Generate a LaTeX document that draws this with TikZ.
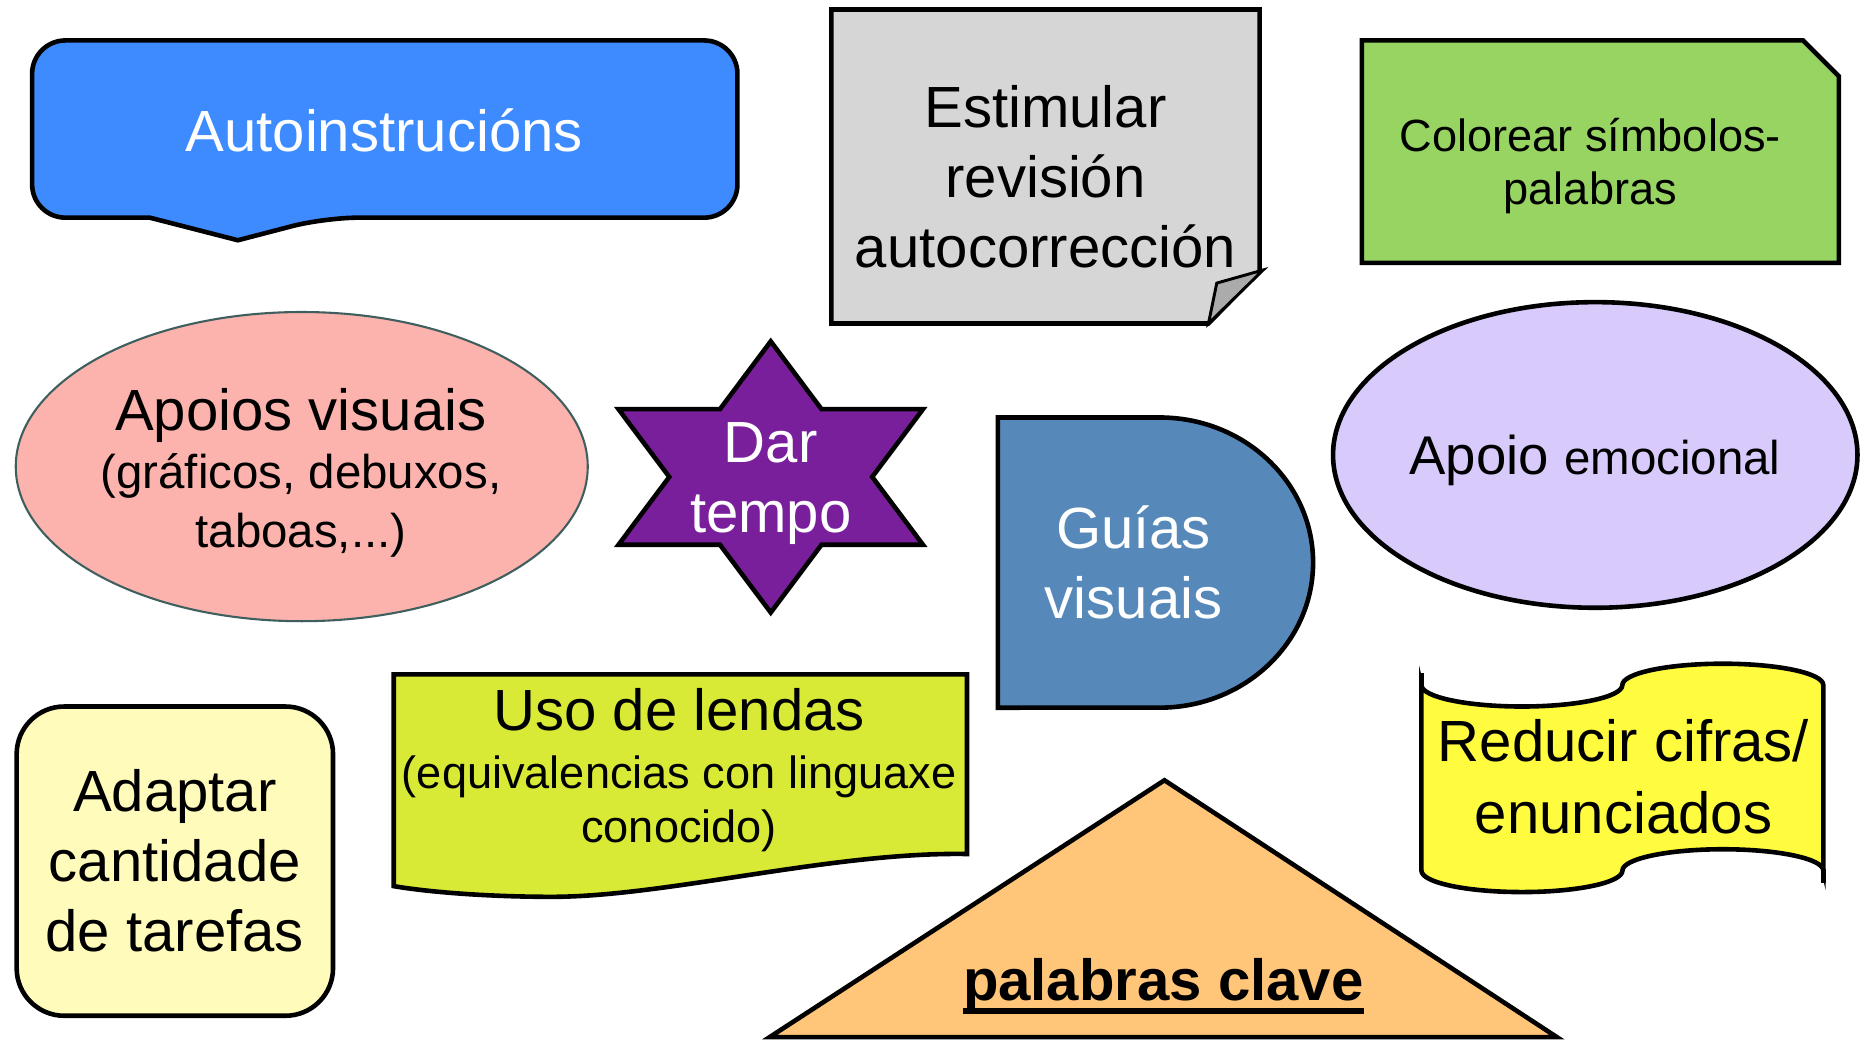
\documentclass[tikz,border=0pt]{standalone}
\usepackage{fontspec}
\setmainfont{Liberation Sans}
\usepackage{tikz}
\definecolor{autoblue}{HTML}{3D8BFF}
\definecolor{paper}{HTML}{D6D6D6}
\definecolor{paperfold}{HTML}{ABABAB}
\definecolor{leafgreen}{HTML}{97D462}
\definecolor{salmon}{HTML}{FCB3AD}
\definecolor{salmonedge}{HTML}{3F5F5F}
\definecolor{starviolet}{HTML}{7A1F9C}
\definecolor{steelblue}{HTML}{5689B9}
\definecolor{lavender}{HTML}{D8CAFA}
\definecolor{cream}{HTML}{FFFBBA}
\definecolor{lime}{HTML}{D8EA35}
\definecolor{apricot}{HTML}{FFC578}
\definecolor{lemon}{HTML}{FFFC40}
\tikzstyle{blob} =
[draw=black, line width=2.2pt, line join=miter]
\tikzstyle{bigtext} =
[inner sep=0pt, anchor=base, font=\fontsize{27.8}{33}\selectfont]
\tikzstyle{smalltext} =
[inner sep=0pt, anchor=base, font=\fontsize{22.7}{27}\selectfont]
\tikzstyle{tinytext} =
[inner sep=0pt, anchor=base, font=\fontsize{21.6}{26}\selectfont]
\begin{document}
\begin{tikzpicture}[x=0.02cm, y=-0.02cm]
  \path[use as bounding box, fill=white] (0,0) rectangle (1568,874.4);
  % top row shapes
  \draw[blob, fill=autoblue] (27,108) [rounded corners=0.56cm] -- (27,34)
   -- (620,34) -- (620,183) -- (273,183) [sharp corners] -- (200,202)
   -- (126,183) [rounded corners=0.56cm] -- (27,183) -- cycle;
  \draw[blob, fill=paper] (699,8) -- (1059,8) -- (1059,228) -- (1016,272)
   -- (699,272) -- cycle;
  \draw[blob, line width=1.4pt, fill=paperfold] (1062,227) -- (1023,238)
   -- (1016,272) -- cycle;
  \draw[blob, fill=leafgreen] (1145,34) -- (1516,34) -- (1546,64)
   -- (1546,221) -- (1145,221) -- cycle;
  \node [bigtext, white] (auto) at (323,127) {Autoinstrucións};
  \node [bigtext] (estim1) at (879,107) {Estimular};
  \node [bigtext] (estim2) at (879,166) {revisión};
  \node [bigtext] (estim3) at (879,225) {autocorrección};
  \node [tinytext] (color1) at (1337,127) {Colorear símbolos-};
  \node [tinytext] (color2) at (1337,172) {palabras};
  %
  % middle row shapes
  \draw[draw=salmonedge, line width=1pt, fill=salmon] (253.7,392.3)
   ellipse [x radius=4.81cm, y radius=2.6cm];
  \draw[blob, fill=starviolet] (648,287) -- (690.7,344) -- (776,344)
   -- (733.3,401) -- (776,458) -- (690.7,458) -- (648,515) -- (605.3,458)
   -- (520,458) -- (562.7,401) -- (520,344) -- (605.3,344) -- cycle;
  \draw[blob, fill=steelblue] (839,351) -- (975,351)
   arc [start angle=90, end angle=-90, x radius=2.58cm, y radius=2.44cm]
   -- (839,595) -- cycle;
  \draw[blob, fill=lavender] (1341.2,382.5)
   ellipse [x radius=4.41cm, y radius=2.57cm];
  \node [bigtext] (apoios1) at (253,362) {Apoios visuais};
  \node [smalltext] (apoios2) at (253,411) {(gráficos, debuxos,};
  \node [smalltext] (apoios3) at (253,460) {taboas,...)};
  \node [bigtext, white] (dar) at (648,389) {Dar};
  \node [bigtext, white] (tempo) at (648,448) {tempo};
  \node [bigtext, white] (guias1) at (953,461) {Guías};
  \node [bigtext, white] (guias2) at (953,520) {visuais};
  \node [bigtext, font=\fontsize{26.1}{31}\selectfont] (emoc) at (1341,399)
   {Apoio {\fontsize{22.7}{27}\selectfont emocional}};
  %
  % bottom row shapes
  \draw[blob, fill=cream, rounded corners=0.8cm] (14,594) rectangle (280,854);
  \draw[blob, fill=lime] (331,567) -- (813,567) -- (813,718)
   .. controls (700,716) and (560,754) .. (464,754)
   .. controls (410,754) and (360,750) .. (331,745) -- cycle;
  \draw[blob, fill=apricot] (979,656) -- (1309,872) -- (647,872) -- cycle;
  \draw[blob, fill=lemon] (1195,576)
   arc [start angle=180, end angle=360, x radius=1.69cm, y radius=0.36cm]
   arc [start angle=180, end angle=0, x radius=1.69cm, y radius=0.36cm]
   -- (1533,732)
   arc [start angle=0, end angle=180, x radius=1.69cm, y radius=0.36cm]
   arc [start angle=0, end angle=-180, x radius=1.69cm, y radius=0.36cm]
   -- cycle;
  \draw[blob] (1195,577) -- (1195,566);
  \draw[blob] (1533,731) -- (1533,742);
  \node [bigtext] (adapt1) at (147,682) {Adaptar};
  \node [bigtext] (adapt2) at (147,741) {cantidade};
  \node [bigtext] (adapt3) at (147,800) {de tarefas};
  \node [bigtext] (lendas1) at (571,614) {Uso de lendas};
  \node [tinytext] (lendas2) at (571,663) {(equivalencias con linguaxe};
  \node [tinytext] (lendas3) at (571,708) {conocido)};
  \node [bigtext, font=\fontsize{27.8}{33}\selectfont\bfseries] (clave)
   at (978,841) {palabras clave};
  \draw[line width=2.8pt] ([yshift=-5.2pt]clave.base west)
   -- ([yshift=-5.2pt]clave.base east);
  \node [bigtext] (reduc1) at (1365,640) {Reducir cifras/};
  \node [bigtext] (reduc2) at (1365,701) {enunciados};
\end{tikzpicture}
\end{document}
